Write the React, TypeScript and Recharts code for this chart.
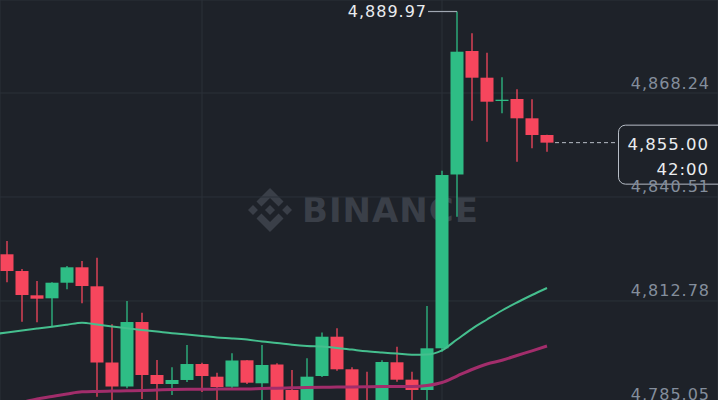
import React from "react";
import {
  ComposedChart,
  Bar,
  Line,
  XAxis,
  YAxis,
  CartesianGrid,
  ReferenceDot,
} from "recharts";

// candle OHLC, one entry per 15px column (oldest first)
const opens = [
  4825.23, 4820.77, 4814.29, 4813.49, 4817.65, 4821.76, 4816.69, 4796.37, 4789.97, 4807.17,
  4793.04, 4790.64, 4791.71, 4795.97, 4792.59, 4789.92, 4796.96, 4790.83, 4795.84, 4789.04,
  4785.04, 4792.77, 4803.25, 4794.56, 4785.84, 4785.31, 4796.43, 4791.79, 4789.04, 4800.16,
  4846.51, 4879.44, 4872.32, 4866.29, 4866.64, 4861.49, 4857.04,
];
const highs = [
  4828.77, 4821.31, 4818.11, 4817.76, 4822.11, 4823.44, 4824.32, 4806.56, 4812.77, 4809.65,
  4797.04, 4795.09, 4801.04, 4796.32, 4793.65, 4798.83, 4797.04, 4801.04, 4796.16, 4794.37,
  4797.49, 4804.37, 4805.49, 4795.09, 4793.92, 4796.99, 4800.59, 4793.92, 4811.44, 4847.52,
  4889.97, 4884.16, 4878.99, 4872.43, 4869.23, 4866.56, 4857.1,
];
const lows = [
  4817.76, 4807.25, 4807.09, 4805.92, 4815.89, 4812.16, 4787.25, 4783.71, 4789.49, 4786.64,
  4785.04, 4787.71, 4791.17, 4788.51, 4786.37, 4789.57, 4790.64, 4784.24, 4783.17, 4781.57,
  4783.17, 4792.51, 4794.19, 4783.71, 4782.37, 4784.24, 4791.25, 4785.04, 4785.04, 4799.25,
  4835.25, 4860.85, 4855.25, 4862.83, 4849.92, 4853.49, 4852.59,
];
const closes = [
  4820.77, 4814.37, 4813.39, 4817.65, 4821.76, 4816.77, 4796.37, 4789.97, 4807.17, 4793.04,
  4790.64, 4791.71, 4795.97, 4792.77, 4789.84, 4796.91, 4790.99, 4795.71, 4785.84, 4784.24,
  4792.59, 4803.25, 4794.56, 4785.31, 4784.24, 4796.51, 4791.79, 4789.04, 4800.16, 4846.37,
  4879.25, 4872.32, 4865.92, 4866.45, 4861.49, 4857.04, 4855.0,
];

// moving averages, first value belongs to the column just left of the view
const maFast = [
  4803.84, 4804.4, 4804.91, 4805.41, 4805.92, 4806.45, 4806.99, 4806.48, 4806.0, 4805.49,
  4805.04, 4804.61, 4804.16, 4803.81, 4803.44, 4803.04, 4802.8, 4802.48, 4801.97, 4801.57,
  4801.09, 4800.77, 4800.64, 4800.27, 4799.81, 4799.36, 4799.04, 4798.75, 4798.45, 4798.51,
  4799.63, 4802.51, 4805.36, 4807.84, 4810.24, 4812.37, 4814.37, 4816.24,
];
const maSlow = [
  4783.97, 4784.77, 4785.71, 4786.64, 4787.31, 4787.97, 4788.56, 4788.67, 4788.75, 4788.83,
  4788.91, 4789.04, 4789.17, 4789.23, 4789.25, 4789.28, 4789.31, 4789.33, 4789.44, 4789.52,
  4789.63, 4789.73, 4789.79, 4789.81, 4789.87, 4789.92, 4789.95, 4789.95, 4789.97, 4790.24,
  4791.04, 4792.77, 4794.51, 4795.97, 4796.96, 4798.24, 4799.49, 4800.77,
];

const priceTicks = [4785.05, 4812.78, 4840.51, 4868.24];
const timeTicks = [13, 29];
const highPrice = 4889.97;
const lastPrice = 4855.0;
const countdown = "42:00";

const W = 718;
const H = 420;
const BG = "#1e2229";
const GRID = "#2b3139";
const UP = "#2ebd85";
const DOWN = "#f6465d";
const AXIS_TEXT = "#848e9c";
const TEXT = "#eaecef";
const FONT = "'DejaVu Sans', sans-serif";

const data = [
  { i: -1, maFast: maFast[0], maSlow: maSlow[0] },
  ...opens.map((open, k) => ({
    i: k,
    open,
    high: highs[k],
    low: lows[k],
    close: closes[k],
    range: [lows[k], highs[k]],
    maFast: maFast[k + 1],
    maSlow: maSlow[k + 1],
  })),
];

const fmt = (v: number) =>
  v.toLocaleString("en-US", { minimumFractionDigits: 2, maximumFractionDigits: 2 });

function Candle(props: any) {
  const { x, y, width, height, payload } = props;
  if (!payload || payload.open == null) return null;
  const { open, close, high, low } = payload;
  const color = close >= open ? UP : DOWN;
  const top = height >= 0 ? y : y + height;
  const h = Math.abs(height);
  const toY = (v: number) => top + ((high - v) / (high - low)) * h;
  const cx = x + width / 2;
  const bTop = toY(Math.max(open, close));
  const bBot = toY(Math.min(open, close));
  return (
    <g>
      <line x1={cx} x2={cx} y1={top} y2={top + h} stroke={color} strokeWidth={1.3} />
      <rect x={x} y={bTop} width={width} height={Math.max(bBot - bTop, 1.3)} fill={color} />
    </g>
  );
}

function PriceTick({ y, payload }: any) {
  return (
    <text
      x={W - 8}
      y={y - 10}
      textAnchor="end"
      dominantBaseline="central"
      fill={AXIS_TEXT}
      fontSize={16}
      letterSpacing={1}
      fontFamily={FONT}
    >
      {fmt(payload.value)}
    </text>
  );
}

function HighMarker({ cx, cy }: any) {
  return (
    <g>
      <line x1={cx - 29} x2={cx} y1={cy} y2={cy} stroke="#a0a7b2" strokeWidth={1.2} />
      <text
        x={cx - 30}
        y={cy}
        textAnchor="end"
        dominantBaseline="central"
        fill={TEXT}
        fontSize={16}
        letterSpacing={1}
        fontFamily={FONT}
      >
        {fmt(highPrice)}
      </text>
    </g>
  );
}

function LastPriceBox({ cx, cy }: any) {
  const left = 618.5;
  return (
    <g>
      <line
        x1={cx + 8}
        x2={left}
        y1={cy}
        y2={cy}
        stroke="#b7bdc6"
        strokeWidth={1}
        strokeDasharray="4 3"
      />
      <rect
        x={left}
        y={cy - 17.5}
        width={110}
        height={59}
        rx={7}
        fill={BG}
        stroke="#b7bdc6"
        strokeWidth={1}
      />
      <text x={W - 9} y={cy + 2} textAnchor="end" dominantBaseline="central" fill={TEXT} fontSize={16.5} letterSpacing={1} fontFamily={FONT}>
        {fmt(lastPrice)}
      </text>
      <text x={W - 9} y={cy + 27} textAnchor="end" dominantBaseline="central" fill={TEXT} fontSize={16.5} letterSpacing={1} fontFamily={FONT}>
        {countdown}
      </text>
    </g>
  );
}

function Watermark() {
  return (
    <div
      style={{
        position: "absolute",
        left: 248,
        top: 188,
        display: "flex",
        alignItems: "center",
        gap: 10,
        color: "#3a3f48",
        pointerEvents: "none",
      }}
    >
      <svg width={44} height={44} viewBox="0 0 126.61 126.61">
        <g fill="#3a3f48">
          <path d="M38.73 53.2l24.59-24.58 24.6 24.6 14.3-14.31L63.32 0 24.42 38.9z" />
          <path d="M0 63.31l14.3-14.31 14.31 14.31-14.31 14.3z" />
          <path d="M38.73 73.41l24.59 24.59 24.6-24.6 14.31 14.29-38.91 38.91-38.91-38.9z" />
          <path d="M98.28 63.31l14.3-14.31 14.31 14.31-14.31 14.3z" />
          <path d="M77.83 63.3L63.32 48.78 48.81 63.3 63.32 77.81z" />
        </g>
      </svg>
      <span
        style={{
          fontFamily: FONT,
          fontWeight: 700,
          fontSize: 34,
          letterSpacing: 1,
          lineHeight: "44px",
        }}
      >
        BINANCE
      </span>
    </div>
  );
}

export default function App() {
  return (
    <div
      style={{
        position: "absolute",
        left: 0,
        top: 0,
        width: W,
        height: 400,
        overflow: "hidden",
        background: BG,
      }}
    >
      <Watermark />
      <div style={{ position: "absolute", left: 0, top: 0 }}>
        <ComposedChart width={W} height={H} data={data} margin={{ top: 0, right: 0, bottom: 0, left: 0 }}>
          <CartesianGrid stroke={GRID} strokeWidth={1} />
          <XAxis
            dataKey="i"
            type="number"
            domain={[-7 / 15, 711 / 15]}
            ticks={timeTicks}
            allowDataOverflow
            hide
          />
          <YAxis
            orientation="right"
            mirror
            domain={[4781.04, 4893.04]}
            ticks={priceTicks}
            interval={0}
            allowDataOverflow
            axisLine={false}
            tickLine={false}
            tick={<PriceTick />}
          />
          <Line
            type="monotone"
            dataKey="maFast"
            stroke="#45bf8e"
            strokeWidth={2}
            dot={false}
            activeDot={false}
            isAnimationActive={false}
          />
          <Line
            type="monotone"
            dataKey="maSlow"
            stroke="#a22d6b"
            strokeWidth={3}
            dot={false}
            activeDot={false}
            isAnimationActive={false}
          />
          <Bar dataKey="range" barSize={13} shape={<Candle />} isAnimationActive={false} />
          <ReferenceDot x={30} y={highPrice} r={0} shape={<HighMarker />} />
          <ReferenceDot x={opens.length - 1} y={lastPrice} r={0} shape={<LastPriceBox />} />
        </ComposedChart>
      </div>
    </div>
  );
}
